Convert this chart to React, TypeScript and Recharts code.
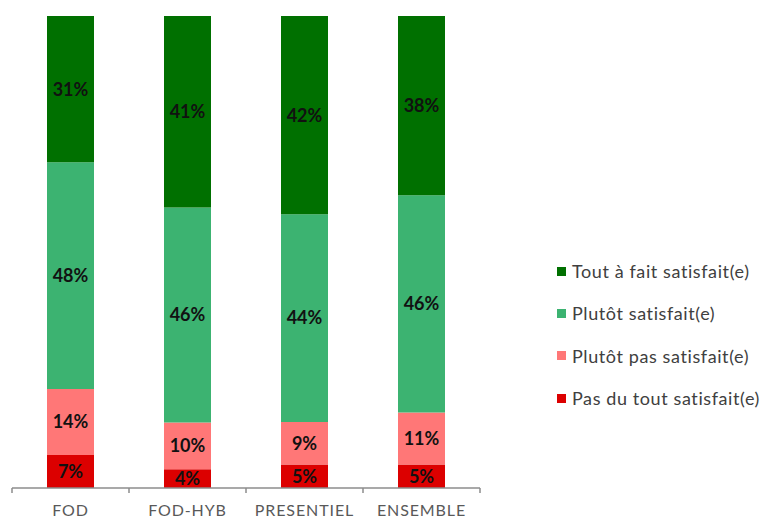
import React from 'react';
import { BarChart, Bar, XAxis, YAxis, LabelList } from 'recharts';

const categories = ['FOD', 'FOD-HYB', 'PRESENTIEL', 'ENSEMBLE'];
const pasDuTout = [7, 4, 5, 5];
const plutotPas = [14, 10, 9, 11];
const plutotSat = [48, 46, 44, 46];
const toutAFait = [31, 41, 42, 38];
const boundaryTicks = [0, 1, 2, 3, 4];

const seriesKeys = ['pasDuTout', 'plutotPas', 'plutotSat', 'toutAFait'];
const seriesNames = [
  'Pas du tout satisfait(e)',
  'Plutôt pas satisfait(e)',
  'Plutôt satisfait(e)',
  'Tout à fait satisfait(e)',
];
const seriesColors = ['#dc0000', '#ff7777', '#3cb371', '#007000'];

const data = categories.map((c, i) => ({
  name: c,
  pasDuTout: pasDuTout[i],
  plutotPas: plutotPas[i],
  plutotSat: plutotSat[i],
  toutAFait: toutAFait[i],
}));

const FONT = 'Lato, "Liberation Sans", sans-serif';

export default function App() {
  const legendOrder = [3, 2, 1, 0];
  return (
    <div style={{ position: 'absolute', left: 0, top: 0, width: 763, height: 522, background: '#fff', overflow: 'hidden' }}>
      <BarChart
        width={763}
        height={522}
        data={data}
        stackOffset="expand"
        margin={{ top: 16, right: 283, left: 12, bottom: 0 }}
      >
        <XAxis
          xAxisId="bounds"
          type="number"
          dataKey="idx"
          domain={[0, 4]}
          ticks={boundaryTicks}
          allowDataOverflow
          height={4}
          axisLine={{ stroke: '#8c8c8c', strokeWidth: 1.5 }}
          tickLine={{ stroke: '#8c8c8c', strokeWidth: 1.5 }}
          tickSize={5}
          tickFormatter={() => ''}
        />
        <XAxis
          xAxisId="cat"
          dataKey="name"
          type="category"
          height={30}
          axisLine={false}
          tickLine={false}
          interval={0}
          tick={{ fill: '#595959', fontSize: 16, fontFamily: FONT, letterSpacing: 0.9 }}
          tickMargin={7}
        />
        <YAxis hide domain={[0, 1]} />
        {seriesKeys.map((k, i) => (
          <Bar
            key={k}
            dataKey={k}
            name={seriesNames[i]}
            stackId="s"
            xAxisId="cat"
            fill={seriesColors[i]}
            barSize={47}
            isAnimationActive={false}
          >
            <LabelList
              dataKey={k}
              position="center"
              formatter={(v: any) => `${v}%`}
              style={{ fill: '#111', fontSize: 18, fontWeight: 700, fontFamily: FONT }}
            />
          </Bar>
        ))}
      </BarChart>
      <div style={{ position: 'absolute', left: 557, top: 250, fontFamily: FONT, fontSize: 18, letterSpacing: 0.6, color: '#404040' }}>
        {legendOrder.map((i) => (
          <div key={i} style={{ display: 'flex', alignItems: 'center', height: 42.3, whiteSpace: 'nowrap' }}>
            <span style={{ width: 9, height: 9, background: seriesColors[i], display: 'inline-block', marginRight: 6, flexShrink: 0 }} />
            <span>{seriesNames[i]}</span>
          </div>
        ))}
      </div>
    </div>
  );
}
